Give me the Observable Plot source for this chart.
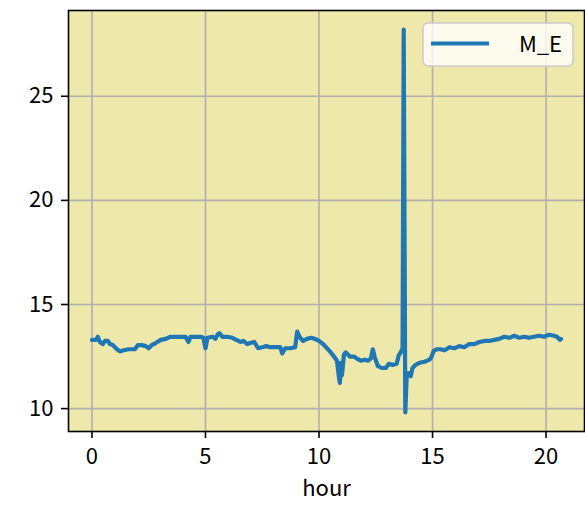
<!DOCTYPE html>
<html>
<head>
<meta charset="utf-8">
<script src="https://cdn.jsdelivr.net/npm/d3@7"></script>
<script src="https://cdn.jsdelivr.net/npm/@observablehq/plot@0.6"></script>
<style>
  html, body { margin: 0; padding: 0; background: #ffffff; }
  #chart { width: 585px; height: 514px; }
</style>
</head>
<body>
<div id="chart"></div>
<script>
const seriesName = "M_E";
const xLabel = "hour";
const xTicks = [0, 5, 10, 15, 20];
const yTicks = [10, 15, 20, 25];

const hours = [
  0.00, 0.18, 0.26, 0.35, 0.48, 0.57, 0.70, 0.79, 0.92, 1.10,
  1.23, 1.40, 1.62, 1.89, 2.02, 2.19, 2.37, 2.50, 2.63, 2.81,
  3.03, 3.25, 3.46, 3.68, 3.90, 4.12, 4.25, 4.34, 4.56, 4.78,
  4.91, 5.00, 5.09, 5.31, 5.44, 5.53, 5.61, 5.75, 5.96, 6.18,
  6.36, 6.54, 6.67, 6.84, 6.97, 7.15, 7.32, 7.50, 7.68, 7.85,
  8.07, 8.29, 8.38, 8.51, 8.73, 8.95, 9.04, 9.17, 9.30, 9.47,
  9.65, 9.82, 10.00, 10.18, 10.31, 10.48, 10.66, 10.79, 10.88, 10.92,
  10.96, 11.01, 11.10, 11.18, 11.36, 11.54, 11.67, 11.84, 12.02, 12.15,
  12.28, 12.37, 12.46, 12.59, 12.76, 12.94, 13.07, 13.25, 13.42, 13.51,
  13.60, 13.68, 13.73, 13.80, 13.86, 13.95, 14.04, 14.12, 14.25, 14.43,
  14.65, 14.87, 14.96, 15.04, 15.18, 15.35, 15.53, 15.75, 15.96, 16.18,
  16.40, 16.62, 16.84, 17.06, 17.28, 17.50, 17.72, 17.94, 18.16, 18.38,
  18.60, 18.82, 19.04, 19.25, 19.47, 19.69, 19.91, 20.13, 20.35, 20.48,
  20.61, 20.66
];
const values = [
  13.30, 13.30, 13.45, 13.20, 13.10, 13.25, 13.25, 13.10, 13.05, 12.85,
  12.75, 12.80, 12.85, 12.85, 13.05, 13.05, 13.00, 12.90, 13.05, 13.15,
  13.30, 13.35, 13.45, 13.45, 13.45, 13.45, 13.20, 13.45, 13.45, 13.45,
  13.40, 12.90, 13.40, 13.45, 13.35, 13.55, 13.62, 13.45, 13.45, 13.40,
  13.30, 13.20, 13.25, 13.10, 13.15, 13.20, 12.90, 12.95, 13.00, 12.95,
  12.95, 12.95, 12.65, 12.90, 12.90, 12.95, 13.70, 13.40, 13.25, 13.35,
  13.40, 13.35, 13.25, 13.10, 12.95, 12.75, 12.50, 12.30, 11.50, 11.23,
  12.20, 11.60, 12.60, 12.70, 12.50, 12.50, 12.40, 12.30, 12.35, 12.30,
  12.40, 12.85, 12.45, 12.05, 11.95, 11.95, 12.15, 12.10, 12.15, 12.55,
  12.70, 12.90, 28.20, 9.82, 11.50, 11.70, 11.55, 11.95, 12.10, 12.20,
  12.25, 12.35, 12.50, 12.75, 12.85, 12.85, 12.80, 12.95, 12.90, 13.00,
  12.95, 13.10, 13.10, 13.20, 13.25, 13.25, 13.30, 13.35, 13.45, 13.40,
  13.50, 13.40, 13.45, 13.40, 13.45, 13.50, 13.45, 13.55, 13.50, 13.45,
  13.30, 13.35
];

const data = hours.map((h, i) => ({hour: h, value: values[i]}));

const xMin = d3.min(hours), xMax = d3.max(hours);
const yMin = d3.min(values), yMax = d3.max(values);
const xPad = (xMax - xMin) * 0.05, yPad = (yMax - yMin) * 0.05;

const font = "'Noto Sans CJK JP', 'Noto Sans', sans-serif";
const fs = 22;

const chart = Plot.plot({
  width: 585,
  height: 514,
  marginLeft: 68,
  marginRight: 1,
  marginTop: 10,
  marginBottom: 83,
  style: {fontFamily: font, fontSize: fs + "px", color: "#000", background: "#ffffff", overflow: "visible"},
  x: {domain: [xMin - xPad, xMax + xPad]},
  y: {domain: [yMin - yPad, yMax + yPad]},
  marks: [
    Plot.frame({fill: "#eee8aa"}),
    Plot.gridX(xTicks, {stroke: "#b0b0b0", strokeOpacity: 1, strokeWidth: 1.6}),
    Plot.gridY(yTicks, {stroke: "#b0b0b0", strokeOpacity: 1, strokeWidth: 1.6}),
    Plot.line(data, {x: "hour", y: "value", stroke: "#1f77b4", strokeWidth: 4.2, strokeLinejoin: "round", strokeLinecap: "round"}),
    Plot.frame({stroke: "#000", strokeWidth: 1.6}),
    Plot.axisX(xTicks, {tickSize: 7, tickPadding: 10, label: null, fontSize: fs, strokeWidth: 1.6}),
    Plot.axisY(yTicks, {tickSize: 7, tickPadding: 8, label: null, fontSize: fs, strokeWidth: 1.6}),
    Plot.text([xLabel], {frameAnchor: "bottom", dy: 64, fontSize: fs, text: d => d})
  ]
});

document.getElementById("chart").appendChild(chart);

// legend
const svg = d3.select(chart);
const lg = svg.append("g").attr("font-family", font);
lg.append("rect")
  .attr("x", 423).attr("y", 23).attr("width", 150).attr("height", 43)
  .attr("rx", 5).attr("ry", 5)
  .attr("fill", "#ffffff").attr("fill-opacity", 0.8)
  .attr("stroke", "#cccccc").attr("stroke-width", 1.6);
lg.append("line")
  .attr("x1", 431).attr("x2", 489).attr("y1", 43.5).attr("y2", 43.5)
  .attr("stroke", "#1f77b4").attr("stroke-width", 4.2);
lg.append("text")
  .attr("x", 562).attr("y", 44).attr("dy", "0.35em")
  .attr("text-anchor", "end").attr("font-size", fs)
  .text(seriesName);
</script>
</body>
</html>
